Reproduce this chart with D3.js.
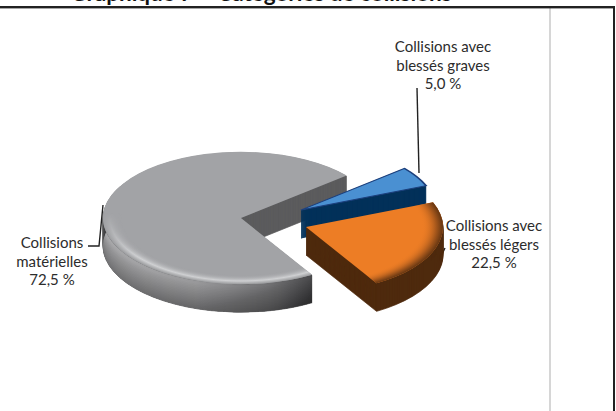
<!DOCTYPE html>
<html>
<head>
<meta charset="utf-8">
<script src="https://cdn.jsdelivr.net/npm/d3@7"></script>
<style>
  html, body { margin: 0; padding: 0; background: #fff; }
  svg { display: block; }
  text { font-family: Lato, "Open Sans", sans-serif; fill: #2c2c2c; }
</style>
</head>
<body>
<svg id="chart" width="616" height="411"></svg>
<script>
const categories = ["Collisions matérielles", "Collisions avec blessés graves", "Collisions avec blessés légers"]
const shares = [72.5, 5.0, 22.5]
const titleText = "Graphique 7 – Catégories de collisions"

const width = 616
const height = 411
const svg = d3.select("#chart")

const cx = 241, cy = 218      // pie centre
const rx = 138, squash = 0.48 // flat pie
const depth = 28
const rad = Math.PI / 180

// frame
svg.append("rect").attr("x", 549).attr("y", 8).attr("width", 2).attr("height", height - 8).attr("fill", "#d6d6d6")
svg.append("rect").attr("x", 0).attr("y", 6).attr("width", width - 2).attr("height", 2.4).attr("fill", "#222")
svg.append("rect").attr("x", 613).attr("y", 6).attr("width", 2).attr("height", height - 6).attr("fill", "#222")

svg.append("text")
  .attr("x", 261).attr("y", 0.5)
  .attr("text-anchor", "middle")
  .style("font-size", "22.5px").style("font-weight", "700").style("fill", "#111")
  .text(titleText)

const defs = svg.append("defs")

function radial(id, stops) {
  const g = defs.append("radialGradient").attr("id", id)
    .attr("gradientUnits", "userSpaceOnUse")
    .attr("cx", 0).attr("cy", 0).attr("r", rx)
  stops.forEach(s => g.append("stop").attr("offset", s[0]).attr("stop-color", s[1]).attr("stop-opacity", s[2]))
}

const rimGrad = defs.append("linearGradient").attr("id", "rimGray")
  .attr("gradientUnits", "userSpaceOnUse")
  .attr("x1", cx - rx).attr("x2", cx + 70).attr("y1", 0).attr("y2", 0)
;[[0, "#a8a8aa"], [0.45, "#98989a"], [0.8, "#707072"], [1, "#4a4a4c"]].forEach(s =>
  rimGrad.append("stop").attr("offset", s[0]).attr("stop-color", s[1]))

radial("bevelGray", [[0.86, "#a2a3a6", 0], [0.95, "#cfd0d2", 1], [1, "#98999b", 1]])
radial("bevelOrange", [[0.84, "#ed7d25", 0], [0.94, "#a9591c", 1], [1, "#5a3010", 1]])

// bevel only shows towards the viewer
const fade = defs.append("linearGradient").attr("id", "bevelFade")
  .attr("gradientUnits", "userSpaceOnUse")
  .attr("x1", 0).attr("x2", 0).attr("y1", -10).attr("y2", rx * 0.6)
fade.append("stop").attr("offset", 0).attr("stop-color", "#000")
fade.append("stop").attr("offset", 1).attr("stop-color", "#fff")
defs.append("mask").attr("id", "bevelMask")
  .attr("maskUnits", "userSpaceOnUse")
  .attr("x", -rx).attr("y", -rx).attr("width", 2 * rx).attr("height", 2 * rx)
  .append("rect").attr("x", -rx).attr("y", -rx).attr("width", 2 * rx).attr("height", 2 * rx)
  .attr("fill", "url(#bevelFade)")

// pie starts at the lower end of the grey slice, clockwise
const startAngle = 149 * rad
const pie = d3.pie().sort(null).startAngle(startAngle).endAngle(startAngle + 2 * Math.PI)
const arcs = pie(shares)

const looks = [
  { top: "#a2a3a6", wall: "#5c5c5e", bevel: "url(#bevelGray)", mask: "url(#bevelMask)", dx: 0, dy: 0, r: rx },
  { top: "#4a90d2", wall: "#03315a", stroke: "#1c3f7c", dx: 60, dy: -8, r: 135 },
  { top: "#ed7d25", wall: "#4e2a0e", bevel: "url(#bevelOrange)", dx: 65, dy: 9, r: 137 }
]

const arc = d3.arc()

function sliceGroup(i, dy) {
  const look = looks[i]
  return svg.append("g").attr("transform", `translate(${cx + look.dx},${cy + look.dy + dy}) scale(1,${squash})`)
}

// front rim of the grey slice as a ribbon, getting darker going down
function drawRim(look, from, to) {
  const angles = d3.range(from, to, 1)
  const px = a => cx + look.dx + Math.sin(a * rad) * look.r
  const py = a => cy + look.dy - Math.cos(a * rad) * look.r * squash
  const ribbon = (y0, y1) => d3.area().x(px).y0(a => py(a) + y0).y1(a => py(a) + y1)(angles)
  svg.append("path").attr("d", ribbon(0, depth)).attr("fill", "url(#rimGray)")
  d3.range(3, depth, 1.5).forEach(y0 => {
    svg.append("path").attr("d", ribbon(y0, depth)).attr("fill", "#000").attr("fill-opacity", 0.018)
  })
}

// leader lines sit between the slices
const leaders = [
  [[103, 205], [99, 246], [88, 246]],
  [[417, 88], [419, 173]],
  [[445, 248], [433, 273]]
]
const line = d3.line()

function drawSlice(i) {
  const d = arcs[i]
  const look = looks[i]
  const shape = { innerRadius: 0, outerRadius: look.r, startAngle: d.startAngle, endAngle: d.endAngle }

  // side walls are the top shape stacked downward
  d3.range(depth, 0, -1).forEach(dy => {
    sliceGroup(i, dy).append("path").attr("d", arc(shape))
      .attr("fill", look.wall).attr("stroke", look.wall).attr("stroke-width", 1)
  })
  if (i === 0) drawRim(look, 149, 300)

  const g = sliceGroup(i, 0)
  g.append("path").attr("d", arc(shape)).attr("fill", look.top)
  if (look.stroke) {
    g.append("path").attr("d", arc(shape)).attr("fill", "none")
      .attr("stroke", look.stroke).attr("stroke-width", 2)
  }
  if (look.bevel) {
    g.append("path")
      .attr("d", arc({ ...shape, innerRadius: look.r * 0.8 }))
      .attr("fill", look.bevel)
      .attr("mask", look.mask || null)
  }
}

function drawLeader(points) {
  svg.append("path").attr("d", line(points)).attr("fill", "none")
    .attr("stroke", "#222").attr("stroke-width", 1.4)
}

drawSlice(0)
leaders.forEach(drawLeader)
drawSlice(1)
drawSlice(2)

// labels
const fmt = v => v.toFixed(1).replace(".", ",") + " %"
const labelLines = [
  ["Collisions", "matérielles", fmt(shares[0])],
  ["Collisions avec", "blessés graves", fmt(shares[1])],
  ["Collisions avec", "blessés légers", fmt(shares[2])]
]
const labelAt = [[52, 248], [443, 52], [494, 231]]

labelLines.forEach((rows, i) => {
  svg.append("g").selectAll("text")
    .data(rows)
    .join("text")
    .attr("x", labelAt[i][0])
    .attr("y", (r, k) => labelAt[i][1] + k * 18.5)
    .attr("text-anchor", "middle")
    .style("font-size", "15px")
    .text(r => r)
})
</script>
</body>
</html>
